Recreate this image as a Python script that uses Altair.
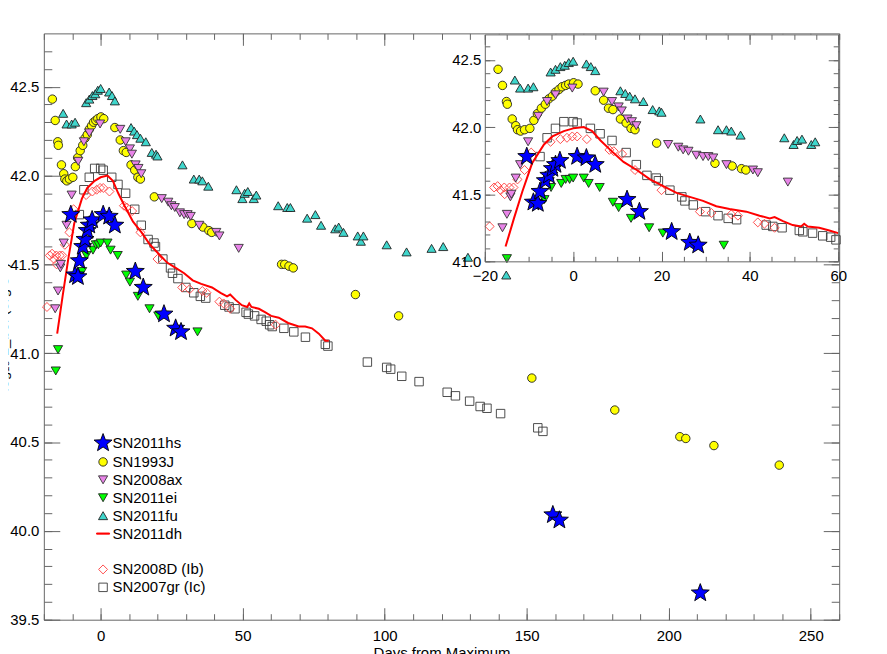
import math
import pandas as pd
import altair as alt

FONT = "Liberation Sans"

# ---------------- data (days from maximum, log10 L_bol) ----------------
SN2011hs_d = [-10.5, -9.0, -8.0, -7.5, -6.3, -5.5, -4.7, -4.0, -3.0, 0.9, 3.0, 5.0,
              12.2, 15.0, 22.3, 26.4, 28.3, 159.2, 161.5, 211.1]
SN2011hs_L = [41.78, 41.44, 41.43, 41.52, 41.60, 41.64, 41.69, 41.72, 41.75, 41.78, 41.77, 41.72,
              41.46, 41.37, 41.22, 41.14, 41.12, 40.09, 40.06, 39.65]

SN1993J_d = [-17.0, -16.0, -15.1, -14.9, -13.8, -13.0, -12.6, -11.9, -11.0, -9.8, -8.9, -8.1,
             -7.2, -6.3, -5.5, -4.7, -4.0, -3.2, -2.5, -1.7, -1.0, 0.1, 1.1, 5.0, 6.9, 8.0,
             9.0, 10.7, 12.0, 13.1, 14.0, 18.9, 32.1, 36.0, 38.1, 39.1, 63.7, 64.8, 66.3,
             67.8, 89.7, 104.9, 151.8, 181.0, 203.9, 206.0, 215.9, 238.9]
SN1993J_L = [42.43, 42.31, 42.19, 42.17, 42.06, 42.01, 41.98, 41.97, 41.98, 41.99, 42.05, 42.10,
             42.14, 42.17, 42.21, 42.23, 42.26, 42.28, 42.30, 42.31, 42.32, 42.33, 42.32, 42.27,
             42.20, 42.14, 42.13, 42.06, 42.03, 41.99, 41.98, 41.88, 41.73, 41.71, 41.69, 41.68,
             41.50, 41.50, 41.49, 41.48, 41.33, 41.21, 40.86, 40.68, 40.53, 40.52, 40.48, 40.37]

SN2008ax_d = [-16.0, -15.0, -14.2, -14.0, -13.0, -12.0, -10.2, -7.9, -5.9, -4.0, -0.2, 6.9,
              8.8, 10.3, 11.0, 12.3, 13.3, 14.3, 21.5, 23.8, 24.9, 26.1, 27.9, 29.4, 30.6,
              31.7, 34.7, 40.7, 41.8, 48.6]
SN2008ax_L = [41.25, 41.35, 41.48, 41.50, 41.62, 41.72, 41.89, 42.08, 42.19, 42.24, 42.29, 42.26,
              42.19, 42.15, 42.12, 42.06, 42.04, 42.01, 41.87, 41.85, 41.83, 41.82, 41.79, 41.78,
              41.78, 41.77, 41.72, 41.68, 41.66, 41.59]

SN2011ei_d = [-15.8, -15.0, -6.5, -5.0, -2.7, -1.7, -0.8, 0.0, 2.4, 3.5, 6.0, 9.0, 10.3,
              13.1, 17.2, 20.3, 34.1]
SN2011ei_L = [40.90, 41.02, 41.46, 41.55, 41.58, 41.61, 41.61, 41.62, 41.62, 41.58, 41.55, 41.44,
              41.40, 41.32, 41.25, 41.21, 41.12]

SN2011fu_d = [-13.2, -12.0, -10.2, -9.0, -5.1, -4.0, -2.9, -1.9, -1.0, 0.0, 3.0, 4.0, 5.0,
              10.7, 11.8, 12.8, 14.0, 15.9, 18.0, 19.5, 20.0, 28.8, 32.8, 34.7, 35.8, 37.9,
              47.8, 49.9, 50.7, 51.8, 53.9, 54.8, 62.5, 65.7, 66.8, 72.7, 75.6, 77.6, 82.6,
              83.8, 85.5, 90.5, 91.6, 92.5, 100.7, 107.7, 116.5, 120.6, 129.3, 142.8]
SN2011fu_L = [42.35, 42.29, 42.29, 42.30, 42.41, 42.43, 42.45, 42.46, 42.48, 42.49, 42.47, 42.45,
              42.42, 42.27, 42.25, 42.23, 42.21, 42.19, 42.13, 42.12, 42.11, 42.06, 41.98, 41.98,
              41.97, 41.94, 41.92, 41.87, 41.90, 41.91, 41.87, 41.89, 41.83, 41.82, 41.82, 41.76,
              41.78, 41.72, 41.70, 41.71, 41.68, 41.66, 41.63, 41.66, 41.61, 41.57, 41.59, 41.60,
              41.54, 41.44]

SN2011dh_d = [-15.3, -13.4, -11.5, -9.3, -6.6, -4.7, -2.1, 0.0, 2.4, 4.3, 6.2, 8.4, 11.4,
              14.4, 17.4, 20.4, 23.4, 26.4, 29.4, 32.4, 35.4, 39.2, 42.2, 44.5, 45.6, 47.5,
              49.7, 51.6, 52.3, 53.1, 55.7, 58.0, 60.0, 62.7, 66.0, 69.7, 72.0, 74.4, 76.8,
              79.1, 80.3]
SN2011dh_L = [41.11, 41.32, 41.52, 41.73, 41.87, 41.93, 41.97, 41.99, 42.00, 41.97, 41.90, 41.83,
              41.74, 41.68, 41.61, 41.56, 41.51, 41.48, 41.45, 41.41, 41.39, 41.37, 41.34, 41.32,
              41.33, 41.30, 41.27, 41.26, 41.28, 41.26, 41.25, 41.23, 41.21, 41.20, 41.17, 41.15,
              41.15, 41.14, 41.11, 41.07, 41.07]

SN2008D_d = [-18.9, -17.9, -17.1, -16.4, -15.6, -15.5, -14.4, -13.5, -12.6, -11.0, -9.5, -5.1,
             -2.9, -1.4, -0.2, 0.9, 3.1, 8.2, 9.2, 11.1, 14.0, 20.0, 28.7, 31.3, 35.8, 37.3,
             41.8, 43.3, 45.6, 61.6]
SN2008D_L = [41.26, 41.55, 41.56, 41.53, 41.55, 41.50, 41.55, 41.55, 41.61, 41.68, 41.81, 41.89,
             41.91, 41.92, 41.93, 41.93, 41.91, 41.83, 41.82, 41.80, 41.68, 41.53, 41.37, 41.36,
             41.35, 41.34, 41.29, 41.28, 41.25, 41.16]

SN2007gr_d = [-7.5, -5.9, -4.0, -2.1, 0.0, 0.9, 3.9, 6.1, 8.8, 12.0, 14.3, 16.7, 18.8, 19.3,
              21.9, 24.6, 25.3, 27.2, 30.0, 32.8, 35.1, 37.0, 43.7, 45.2, 47.3, 51.2, 52.0,
              54.2, 56.5, 58.3, 59.5, 60.4, 64.5, 68.0, 72.1, 79.1, 80.0, 93.9, 100.7, 102.1,
              106.0, 112.1, 122.0, 124.9, 129.9, 133.6, 136.0, 140.8, 153.9, 155.7]
SN2007gr_L = [41.78, 41.92, 41.99, 42.04, 42.04, 42.03, 41.99, 41.95, 41.90, 41.81, 41.72, 41.64,
              41.62, 41.60, 41.53, 41.48, 41.45, 41.42, 41.37, 41.34, 41.32, 41.31, 41.27, 41.26,
              41.25, 41.23, 41.22, 41.21, 41.19, 41.18, 41.16, 41.15, 41.14, 41.12, 41.09, 41.05,
              41.04, 40.95, 40.92, 40.91, 40.87, 40.84, 40.78, 40.76, 40.73, 40.70, 40.69, 40.66,
              40.58, 40.56]

# legend entries (blank entry gives the gap in the legend)
LEGEND_NAMES = ["SN2011hs", "SN1993J", "SN2008ax", "SN2011ei", "SN2011fu", "SN2011dh", " ",
                "SN2008D (Ib)", "SN2007gr (Ic)"]

# axis domains and tick values
MAIN_X = [-20, 260]
MAIN_Y = [39.5, 42.8]
IN_X = [-20, 60]
IN_Y = [41.0, 42.69]
MAIN_X_MAJOR = [0, 50, 100, 150, 200, 250]
MAIN_X_MINOR = list(range(-20, 261, 10))
MAIN_Y_MAJOR = [39.5, 40.0, 40.5, 41.0, 41.5, 42.0, 42.5]
MAIN_Y_MINOR = [round(39.5 + 0.1 * i, 1) for i in range(33)]
IN_X_MAJOR = [-20, 0, 20, 40, 60]
IN_X_MINOR = list(range(-20, 61, 5))
IN_Y_MAJOR = [41.0, 41.5, 42.0, 42.5]
IN_Y_MINOR = [round(41.0 + 0.1 * i, 1) for i in range(17)]

# ---------------- layout / style ----------------
W, H = 799, 589
IN_XR = [443, 798]
IN_YR = [229, 1]


def star_path(R=1.9, ri=0.8):
    pts = []
    for k in range(10):
        ang = math.radians(-90 + 36 * k)
        r = R if k % 2 == 0 else ri
        pts.append(f"{r * math.cos(ang):.3f},{r * math.sin(ang):.3f}")
    return "M" + "L".join(pts) + "Z"


def circle_path(r=0.85):
    return f"M{-r},0A{r},{r} 0 1,0 {r},0A{r},{r} 0 1,0 {-r},0Z"


TRI_UP = "M0,-0.8L0.92,0.8L-0.92,0.8Z"
TRI_DN = "M0,0.8L0.92,-0.8L-0.92,-0.8Z"
SQUARE = "M-0.85,-0.85H0.85V0.85H-0.85Z"
DIAMOND = "M0,-0.9L0.9,0L0,0.9L-0.9,0Z"
LINESYM = "M-1.3,-0.12H1.3V0.12H-1.3Z"
BLANK = "M-0.1,0H0.1"

SHAPES = [star_path(), circle_path(), TRI_DN, TRI_DN, TRI_UP, LINESYM, BLANK, DIAMOND, SQUARE]
FILLS = ["#0000ff", "#ffff00", "#e884e8", "#00ff00", "#3fd6cc", "#ff0000", "transparent",
         "transparent", "transparent"]
STROKES = ["#000000", "#222222", "#333333", "#222222", "#222222", "#ff0000", "transparent",
           "#ff3b3b", "#3a3a3a"]


def frame(names, ds, ls):
    rows = []
    for n, d, l in zip(names, ds, ls):
        for a, b in zip(d, l):
            rows.append({"sn": n, "d": a, "L": b})
    return pd.DataFrame(rows)


others = frame(["SN2007gr (Ic)", "SN2008D (Ib)", "SN1993J", "SN2008ax", "SN2011fu", "SN2011ei"],
               [SN2007gr_d, SN2008D_d, SN1993J_d, SN2008ax_d, SN2011fu_d, SN2011ei_d],
               [SN2007gr_L, SN2008D_L, SN1993J_L, SN2008ax_L, SN2011fu_L, SN2011ei_L])
stars = frame(["SN2011hs"], [SN2011hs_d], [SN2011hs_L])
dh = pd.DataFrame({"d": SN2011dh_d, "L": SN2011dh_L})


def in_box(df):
    return df[(df.d >= IN_X[0]) & (df.d <= IN_X[1]) & (df.L >= IN_Y[0] - 0.005) & (df.L <= IN_Y[1])]


XS_M = alt.Scale(domain=MAIN_X, nice=False, zero=False)
YS_M = alt.Scale(domain=MAIN_Y, nice=False, zero=False)
XS_I = alt.Scale(domain=IN_X, range=IN_XR, nice=False, zero=False)
YS_I = alt.Scale(domain=IN_Y, range=IN_YR, nice=False, zero=False)

LEG = alt.Legend(title=None, orient="none", legendX=52, legendY=404, symbolSize=100,
                 symbolStrokeWidth=0.9, symbolOpacity=1, labelFont=FONT, labelFontSize=15,
                 labelColor="black", labelOffset=2, rowPadding=2, padding=0, labelLimit=300)


def pts(df, xs, ys):
    return alt.Chart(df).mark_point(opacity=1, size=100, strokeWidth=0.9).encode(
        x=alt.X("d:Q", scale=xs, axis=None),
        y=alt.Y("L:Q", scale=ys, axis=None),
        shape=alt.Shape("sn:N", scale=alt.Scale(domain=LEGEND_NAMES, range=SHAPES), legend=LEG),
        fill=alt.Fill("sn:N", scale=alt.Scale(domain=LEGEND_NAMES, range=FILLS), legend=LEG),
        stroke=alt.Stroke("sn:N", scale=alt.Scale(domain=LEGEND_NAMES, range=STROKES), legend=LEG),
    )


def line(df, xs, ys):
    return alt.Chart(df).mark_line(stroke="#ff0000", strokeWidth=2).encode(
        x=alt.X("d:Q", scale=xs, axis=None),
        y=alt.Y("L:Q", scale=ys, axis=None),
    )


AX = dict(grid=False, domainColor="#666666", tickColor="#666666", domainWidth=1, tickWidth=1,
          labelFont=FONT, labelFontSize=15, labelColor="black", labelFlush=False,
          labelOverlap=False, titleFont=FONT, titleFontSize=15, titleFontWeight="normal",
          titleColor="black")


def tick_axis(orient, values, offset, size, domain, z):
    return alt.Axis(orient=orient, values=values, offset=offset, ticks=True, tickSize=size,
                    domain=domain, labels=False, title=None, zindex=z, **AX)


def carrier(xd, yd, xs, ys, xaxis, yaxis):
    return alt.Chart(pd.DataFrame({"x": xd, "y": yd})).mark_point(opacity=0).encode(
        x=alt.X("x:Q", scale=xs, axis=xaxis),
        y=alt.Y("y:Q", scale=ys, axis=yaxis),
    )


# main axes
m_lab = carrier(MAIN_X, MAIN_Y, XS_M, YS_M,
                alt.Axis(orient="bottom", values=MAIN_X_MAJOR, ticks=False, tickSize=0, domain=False,
                         labelPadding=9, format="d", title="Days from Maximum", titlePadding=2,
                         zindex=0, **AX),
                alt.Axis(orient="left", values=MAIN_Y_MAJOR, ticks=False, tickSize=0, domain=False,
                         labelPadding=5, format=".1f", title="log₁₀ L_bol (erg s⁻¹)", titleX=-34,
                         zindex=0, **AX))
m_t1 = carrier(MAIN_X, MAIN_Y, XS_M, YS_M, tick_axis("top", MAIN_X_MAJOR, -H, 12, True, 0),
               tick_axis("right", MAIN_Y_MAJOR, -W, 16, True, 0))
m_t2 = carrier(MAIN_X, MAIN_Y, XS_M, YS_M, tick_axis("top", MAIN_X_MINOR, -H, 6, False, 0),
               tick_axis("right", MAIN_Y_MINOR, -W, 8, False, 0))
m_t3 = carrier(MAIN_X, MAIN_Y, XS_M, YS_M, tick_axis("bottom", MAIN_X_MAJOR, -H, 12, True, 0),
               tick_axis("left", MAIN_Y_MAJOR, -W, 16, True, 0))
m_t4 = carrier(MAIN_X, MAIN_Y, XS_M, YS_M, tick_axis("bottom", MAIN_X_MINOR, -H, 6, False, 0),
               tick_axis("left", MAIN_Y_MINOR, -W, 8, False, 0))

# inset axes
ib = IN_YR[0]
il = IN_XR[0]
ir = IN_XR[1]
it = IN_YR[1]
i_lab = carrier(IN_X, IN_Y, XS_I, YS_I,
                alt.Axis(orient="bottom", values=IN_X_MAJOR, offset=ib - H, ticks=False, tickSize=0,
                         domain=False, labelPadding=7, format="d", title=None, zindex=1, **AX),
                alt.Axis(orient="left", values=IN_Y_MAJOR, offset=-il, ticks=False, tickSize=0,
                         domain=False, labelPadding=4, format=".1f", title=None, zindex=1, **AX))
i_t1 = carrier(IN_X, IN_Y, XS_I, YS_I, tick_axis("top", IN_X_MAJOR, -ib, 10, True, 1),
               tick_axis("right", IN_Y_MAJOR, il - W, 10, True, 1))
i_t2 = carrier(IN_X, IN_Y, XS_I, YS_I, tick_axis("top", IN_X_MINOR, -ib, 5, False, 1),
               tick_axis("right", IN_Y_MINOR, il - W, 5, False, 1))
i_t3 = carrier(IN_X, IN_Y, XS_I, YS_I, tick_axis("bottom", IN_X_MAJOR, it - H, 10, True, 1),
               tick_axis("left", IN_Y_MAJOR, -ir, 10, True, 1))
i_t4 = carrier(IN_X, IN_Y, XS_I, YS_I, tick_axis("bottom", IN_X_MINOR, it - H, 5, False, 1),
               tick_axis("left", IN_Y_MINOR, -ir, 5, False, 1))

inset_bg = alt.Chart(pd.DataFrame({"x": [IN_X[0]], "x2": [IN_X[1]], "y": [IN_Y[0]], "y2": [IN_Y[1]]})
                     ).mark_rect(fill="white", stroke=None).encode(
    x=alt.X("x:Q", scale=XS_I, axis=None), x2="x2:Q",
    y=alt.Y("y:Q", scale=YS_I, axis=None), y2="y2:Q")

layers = [
    m_lab, m_t1, m_t2, m_t3, m_t4,
    pts(others, XS_M, YS_M), line(dh, XS_M, YS_M), pts(stars, XS_M, YS_M),
    inset_bg,
    pts(in_box(others), XS_I, YS_I), line(in_box(dh), XS_I, YS_I), pts(in_box(stars), XS_I, YS_I),
    i_lab, i_t1, i_t2, i_t3, i_t4,
]

chart = alt.layer(*layers).resolve_scale(x="independent", y="independent").properties(
    width=W, height=H,
    autosize=alt.AutoSizeParams(type="none"),
    padding={"left": 36, "top": 24, "right": 40, "bottom": 41},
    background="white",
).configure_view(stroke=None)

chart.save("out.html", embed_options={"renderer": "svg", "actions": False})
